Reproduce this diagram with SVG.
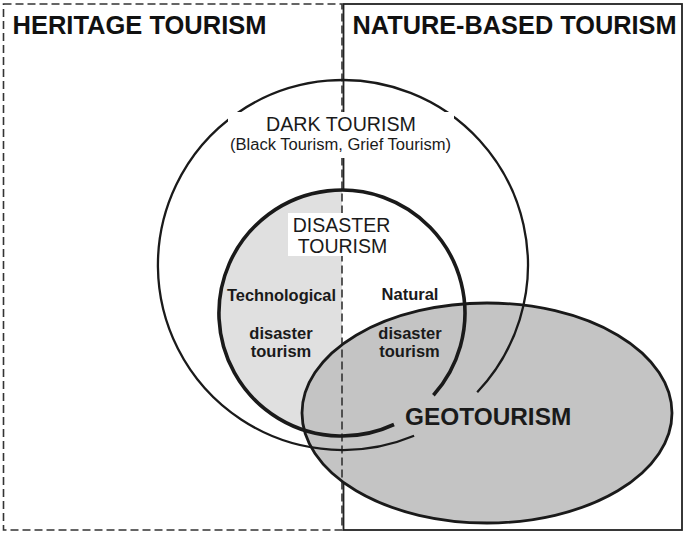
<svg xmlns="http://www.w3.org/2000/svg" width="685" height="534" viewBox="0 0 685 534">
  <style>
    .frame-solid { fill: none; stroke: #222; stroke-width: 1.8; }
    .frame-dash { fill: none; stroke: #333; stroke-width: 1.6; stroke-dasharray: 8 4; }
    .title { font-family: "Liberation Sans", Arial, sans-serif; font-weight: bold; font-size: 25.2px; fill: #111; }
    .lbl { font-family: "Liberation Sans", Arial, sans-serif; fill: #1a1a1a; }
    .bold { font-weight: bold; }
    .mid { text-anchor: middle; }
  </style>
  <rect width="685" height="534" fill="#fff"/>

  <!-- Nature-based tourism frame (drawn first, partially covered by fills) -->
  <g id="nature-based-tourism">
    <rect class="frame-solid" x="343.5" y="4" width="338.5" height="526"/>
  </g>

  <!-- Fills -->
  <g id="disaster-fill">
    <circle cx="342" cy="313" r="123" fill="#fff"/>
    <path d="M342,190 A123,123 0 0 0 342,436 Z" fill="#e0e0e0"/>
  </g>
  <g id="geotourism-fill">
    <ellipse cx="487" cy="413" rx="185" ry="110" fill="#c4c4c4"/>
  </g>

  <!-- Heritage tourism frame (dashed) -->
  <g id="heritage-tourism">
    <rect class="frame-dash" x="3.5" y="4" width="338.5" height="526"/>
    <text class="title" x="12.5" y="34" textLength="254" lengthAdjust="spacingAndGlyphs">HERITAGE TOURISM</text>
  </g>
  <g id="nature-based-tourism-label">
    <text class="title" x="352.5" y="34" textLength="324" lengthAdjust="spacingAndGlyphs">NATURE-BASED TOURISM</text>
  </g>

  <!-- Outlines -->
  <g id="geotourism">
    <ellipse cx="487" cy="413" rx="185" ry="110" fill="none" stroke="#1a1a1a" stroke-width="2.8"/>
  </g>
  <g id="dark-tourism">
    <path d="M477.2,392.3 A185,185 0 1 0 414.1,435.8" fill="none" stroke="#1a1a1a" stroke-width="2.3"/>
    <rect x="228" y="112" width="226" height="46" fill="#fff"/>
    <text class="lbl mid" x="341" y="131" font-size="20" textLength="150" lengthAdjust="spacingAndGlyphs">DARK TOURISM</text>
    <text class="lbl mid" x="340.5" y="149.5" font-size="16" textLength="221" lengthAdjust="spacingAndGlyphs">(Black Tourism, Grief Tourism)</text>
  </g>
  <g id="disaster-tourism">
    <path d="M433.4,395.3 A123,123 0 1 0 394,424.5" fill="none" stroke="#1a1a1a" stroke-width="3.6"/>
    <rect x="288" y="213" width="102" height="43" fill="#fff"/>
    <text class="lbl mid" x="341.5" y="232" font-size="19.5">DISASTER</text>
    <text class="lbl mid" x="342.5" y="252.5" font-size="19.5">TOURISM</text>
  </g>
  <g id="technological-disaster-tourism">
    <text class="lbl bold mid" x="281.5" y="301" font-size="16.4">Technological</text>
    <text class="lbl bold mid" x="281" y="339" font-size="16.5">disaster</text>
    <text class="lbl bold mid" x="281" y="357" font-size="16.5">tourism</text>
  </g>
  <g id="natural-disaster-tourism">
    <text class="lbl bold mid" x="410" y="300" font-size="16.5">Natural</text>
    <text class="lbl bold mid" x="410" y="339" font-size="16.5">disaster</text>
    <text class="lbl bold mid" x="409.5" y="357" font-size="16.5">tourism</text>
  </g>
  <g id="geotourism-label">
    <text class="lbl bold" x="405" y="425" font-size="24.4">GEOTOURISM</text>
  </g>
  <g id="connectors"></g>
</svg>
